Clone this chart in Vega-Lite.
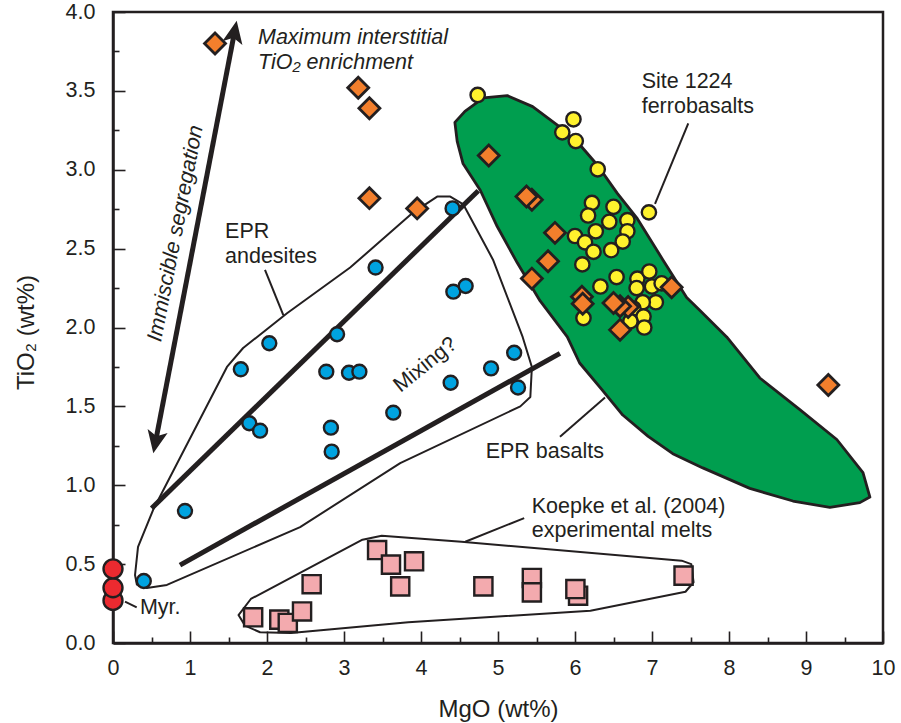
{
  "$schema": "https://vega.github.io/schema/vega-lite/v6.json",
  "width": 770,
  "height": 631,
  "autosize": {"type": "none"},
  "padding": {"left": 113, "top": 12, "right": 18, "bottom": 80},
  "background": "white",
  "config": {
    "font": "Liberation Sans",
    "view": {"stroke": "#231f20", "strokeWidth": 2.5}
  },
  "datasets": {
    "green": [
      {"o": 1, "x": 4.44, "y": 3.30}, {"o": 2, "x": 4.57, "y": 3.37}, {"o": 3, "x": 4.81, "y": 3.455},
      {"o": 4, "x": 5.12, "y": 3.47}, {"o": 5, "x": 5.45, "y": 3.40}, {"o": 6, "x": 5.78, "y": 3.28},
      {"o": 7, "x": 6.06, "y": 3.16}, {"o": 8, "x": 6.29, "y": 3.03}, {"o": 9, "x": 6.55, "y": 2.85},
      {"o": 10, "x": 6.81, "y": 2.69}, {"o": 11, "x": 7.14, "y": 2.43}, {"o": 12, "x": 7.45, "y": 2.19},
      {"o": 13, "x": 7.62, "y": 2.11}, {"o": 14, "x": 7.97, "y": 1.94}, {"o": 15, "x": 8.40, "y": 1.68},
      {"o": 16, "x": 8.92, "y": 1.48}, {"o": 17, "x": 9.40, "y": 1.29}, {"o": 18, "x": 9.74, "y": 1.08},
      {"o": 19, "x": 9.83, "y": 0.925}, {"o": 20, "x": 9.70, "y": 0.89}, {"o": 21, "x": 9.31, "y": 0.86},
      {"o": 22, "x": 8.83, "y": 0.90}, {"o": 23, "x": 8.27, "y": 0.98}, {"o": 24, "x": 7.66, "y": 1.11},
      {"o": 25, "x": 7.27, "y": 1.20}, {"o": 26, "x": 6.95, "y": 1.31}, {"o": 27, "x": 6.62, "y": 1.445},
      {"o": 28, "x": 6.36, "y": 1.60}, {"o": 29, "x": 6.06, "y": 1.775}, {"o": 30, "x": 5.90, "y": 1.94},
      {"o": 31, "x": 5.545, "y": 2.17}, {"o": 32, "x": 5.25, "y": 2.41}, {"o": 33, "x": 4.99, "y": 2.64},
      {"o": 34, "x": 4.77, "y": 2.87}, {"o": 35, "x": 4.545, "y": 3.04}, {"o": 36, "x": 4.47, "y": 3.18}
    ],
    "andesite": [
      {"o": 1, "x": 0.286, "y": 0.431}, {"o": 2, "x": 0.325, "y": 0.609}, {"o": 3, "x": 0.52, "y": 0.843},
      {"o": 4, "x": 1.48, "y": 1.75}, {"o": 5, "x": 1.69, "y": 1.87}, {"o": 6, "x": 2.26, "y": 2.09},
      {"o": 7, "x": 3.08, "y": 2.38}, {"o": 8, "x": 3.90, "y": 2.73}, {"o": 9, "x": 4.21, "y": 2.83},
      {"o": 10, "x": 4.38, "y": 2.83}, {"o": 11, "x": 4.55, "y": 2.78}, {"o": 12, "x": 4.935, "y": 2.43},
      {"o": 13, "x": 5.32, "y": 1.94}, {"o": 14, "x": 5.44, "y": 1.75}, {"o": 15, "x": 5.42, "y": 1.56},
      {"o": 16, "x": 5.29, "y": 1.50}, {"o": 17, "x": 3.73, "y": 1.14}, {"o": 18, "x": 2.43, "y": 0.735},
      {"o": 19, "x": 0.70, "y": 0.368}, {"o": 20, "x": 0.44, "y": 0.349}, {"o": 21, "x": 0.31, "y": 0.37}
    ],
    "koepke": [
      {"o": 1, "x": 3.49, "y": 0.68}, {"o": 2, "x": 4.525, "y": 0.642}, {"o": 3, "x": 7.385, "y": 0.522},
      {"o": 4, "x": 7.51, "y": 0.50}, {"o": 5, "x": 7.54, "y": 0.385}, {"o": 6, "x": 7.435, "y": 0.325},
      {"o": 7, "x": 6.20, "y": 0.205}, {"o": 8, "x": 3.835, "y": 0.131}, {"o": 9, "x": 2.31, "y": 0.063},
      {"o": 10, "x": 1.91, "y": 0.068}, {"o": 11, "x": 1.715, "y": 0.11}, {"o": 12, "x": 1.63, "y": 0.177},
      {"o": 13, "x": 1.79, "y": 0.279}, {"o": 14, "x": 3.24, "y": 0.655}
    ],
    "callouts": [
      {"g": "andesite", "o": 1, "x": 1.974, "y": 2.365}, {"g": "andesite", "o": 2, "x": 2.212, "y": 2.079},
      {"g": "basalt", "o": 1, "x": 5.805, "y": 1.308}, {"g": "basalt", "o": 2, "x": 6.39, "y": 1.557},
      {"g": "site", "o": 1, "x": 7.471, "y": 3.294}, {"g": "site", "o": 2, "x": 7.039, "y": 2.783},
      {"g": "koepke", "o": 1, "x": 4.575, "y": 0.642}, {"g": "koepke", "o": 2, "x": 5.34, "y": 0.792},
      {"g": "myr", "o": 1, "x": 0.156, "y": 0.262}, {"g": "myr", "o": 2, "x": 0.308, "y": 0.226}
    ],
    "thick": [
      {"g": "upper", "o": 1, "x": 0.502, "y": 0.854}, {"g": "upper", "o": 2, "x": 4.744, "y": 2.867},
      {"g": "lower", "o": 1, "x": 0.870, "y": 0.494}, {"g": "lower", "o": 2, "x": 5.805, "y": 1.836},
      {"g": "arrow", "o": 1, "x": 0.553, "y": 1.277}, {"g": "arrow", "o": 2, "x": 1.577, "y": 3.870}
    ],
    "pts": [
      {"g": "blue", "x": 2.03, "y": 1.90}, {"g": "blue", "x": 1.66, "y": 1.735}, {"g": "blue", "x": 3.41, "y": 2.38},
      {"g": "blue", "x": 4.41, "y": 2.755}, {"g": "blue", "x": 4.42, "y": 2.227}, {"g": "blue", "x": 4.58, "y": 2.263},
      {"g": "blue", "x": 2.91, "y": 1.957}, {"g": "blue", "x": 2.77, "y": 1.72}, {"g": "blue", "x": 3.065, "y": 1.713},
      {"g": "blue", "x": 3.20, "y": 1.72}, {"g": "blue", "x": 1.77, "y": 1.393}, {"g": "blue", "x": 1.91, "y": 1.346},
      {"g": "blue", "x": 2.83, "y": 1.365}, {"g": "blue", "x": 2.84, "y": 1.213}, {"g": "blue", "x": 3.64, "y": 1.46},
      {"g": "blue", "x": 4.385, "y": 1.65}, {"g": "blue", "x": 4.91, "y": 1.741}, {"g": "blue", "x": 5.21, "y": 1.84},
      {"g": "blue", "x": 5.26, "y": 1.62}, {"g": "blue", "x": 0.935, "y": 0.837}, {"g": "blue", "x": 0.40, "y": 0.393},
      {"g": "red", "x": 0, "y": 0.27}, {"g": "red", "x": 0, "y": 0.35}, {"g": "red", "x": 0, "y": 0.47},
      {"g": "pink", "x": 1.82, "y": 0.163}, {"g": "pink", "x": 2.16, "y": 0.148}, {"g": "pink", "x": 2.27, "y": 0.127},
      {"g": "pink", "x": 2.455, "y": 0.20}, {"g": "pink", "x": 2.58, "y": 0.373}, {"g": "pink", "x": 3.43, "y": 0.589},
      {"g": "pink", "x": 3.61, "y": 0.497}, {"g": "pink", "x": 3.91, "y": 0.518}, {"g": "pink", "x": 3.73, "y": 0.359},
      {"g": "pink", "x": 4.81, "y": 0.359}, {"g": "pink", "x": 5.44, "y": 0.412}, {"g": "pink", "x": 5.44, "y": 0.321},
      {"g": "pink", "x": 6.04, "y": 0.30}, {"g": "pink", "x": 6.005, "y": 0.342}, {"g": "pink", "x": 7.41, "y": 0.427},
      {"g": "yellow", "x": 4.736, "y": 3.474}, {"g": "yellow", "x": 5.98, "y": 3.32}, {"g": "yellow", "x": 5.835, "y": 3.237},
      {"g": "yellow", "x": 6.01, "y": 3.182}, {"g": "yellow", "x": 6.295, "y": 3.003}, {"g": "yellow", "x": 6.96, "y": 2.73},
      {"g": "yellow", "x": 6.22, "y": 2.79}, {"g": "yellow", "x": 6.50, "y": 2.765}, {"g": "yellow", "x": 6.17, "y": 2.71},
      {"g": "yellow", "x": 6.445, "y": 2.67}, {"g": "yellow", "x": 6.68, "y": 2.68}, {"g": "yellow", "x": 6.68, "y": 2.61},
      {"g": "yellow", "x": 6.27, "y": 2.61}, {"g": "yellow", "x": 6.00, "y": 2.58}, {"g": "yellow", "x": 6.13, "y": 2.54},
      {"g": "yellow", "x": 6.62, "y": 2.545}, {"g": "yellow", "x": 6.24, "y": 2.48}, {"g": "yellow", "x": 6.47, "y": 2.49},
      {"g": "yellow", "x": 6.095, "y": 2.40}, {"g": "yellow", "x": 6.54, "y": 2.32}, {"g": "yellow", "x": 6.33, "y": 2.26},
      {"g": "yellow", "x": 6.81, "y": 2.31}, {"g": "yellow", "x": 6.965, "y": 2.355}, {"g": "yellow", "x": 6.80, "y": 2.25},
      {"g": "yellow", "x": 7.00, "y": 2.26}, {"g": "yellow", "x": 7.125, "y": 2.28}, {"g": "yellow", "x": 7.05, "y": 2.16},
      {"g": "yellow", "x": 6.88, "y": 2.16}, {"g": "yellow", "x": 6.76, "y": 2.12}, {"g": "yellow", "x": 6.89, "y": 2.07},
      {"g": "yellow", "x": 6.90, "y": 2.00}, {"g": "yellow", "x": 6.72, "y": 2.04}, {"g": "yellow", "x": 6.11, "y": 2.06},
      {"g": "orange", "x": 1.325, "y": 3.80}, {"g": "orange", "x": 3.185, "y": 3.52}, {"g": "orange", "x": 3.33, "y": 3.39},
      {"g": "orange", "x": 3.33, "y": 2.82}, {"g": "orange", "x": 3.95, "y": 2.755}, {"g": "orange", "x": 4.88, "y": 3.09},
      {"g": "orange", "x": 5.44, "y": 2.81}, {"g": "orange", "x": 5.37, "y": 2.83}, {"g": "orange", "x": 5.74, "y": 2.60},
      {"g": "orange", "x": 5.65, "y": 2.42}, {"g": "orange", "x": 5.44, "y": 2.31}, {"g": "orange", "x": 6.09, "y": 2.195},
      {"g": "orange", "x": 6.10, "y": 2.15}, {"g": "orange", "x": 6.69, "y": 2.13}, {"g": "orange", "x": 6.585, "y": 2.135},
      {"g": "orange", "x": 6.50, "y": 2.155}, {"g": "orange", "x": 6.585, "y": 1.985}, {"g": "orange", "x": 7.255, "y": 2.255},
      {"g": "orange", "x": 9.29, "y": 1.635}
    ],
    "labels": [
      {"t": "EPR", "x": 1.455, "y": 2.607},
      {"t": "andesites", "x": 1.455, "y": 2.448},
      {"t": "Site 1224", "x": 6.866, "y": 3.554},
      {"t": "ferrobasalts", "x": 6.866, "y": 3.396},
      {"t": "EPR basalts", "x": 4.84, "y": 1.213},
      {"t": "Koepke et al. (2004)", "x": 5.438, "y": 0.86},
      {"t": "experimental melts", "x": 5.438, "y": 0.708},
      {"t": "Myr.", "x": 0.35, "y": 0.222}
    ],
    "italic": [
      {"t": "Maximum interstitial", "x": 1.883, "y": 3.833},
      {"t": "TiO₂ enrichment", "x": 1.883, "y": 3.679}
    ]
  },
  "encoding": {
    "x": {
      "field": "x", "type": "quantitative",
      "scale": {"domain": [0, 10], "nice": false, "zero": false},
      "axis": {
        "title": "MgO (wt%)",
        "values": [0, 0.5, 1, 1.5, 2, 2.5, 3, 3.5, 4, 4.5, 5, 5.5, 6, 6.5, 7, 7.5, 8, 8.5, 9, 9.5, 10],
        "labelExpr": "datum.value % 1 === 0 ? format(datum.value, 'd') : ''",
        "grid": false,
        "tickSize": {"expr": "datum.value % 1 === 0 ? -12 : -6"},
        "labelPadding": 26,
        "labelFontSize": 21.5,
        "labelColor": "#231f20",
        "labelFlush": false,
        "labelOverlap": false,
        "labelBound": false,
        "domainColor": "#231f20",
        "domainWidth": 2.5,
        "tickColor": "#231f20",
        "tickWidth": 1.6,
        "titleFontSize": 24,
        "titleFontWeight": "normal",
        "titleColor": "#231f20",
        "titleBaseline": "alphabetic",
        "titleY": 73
      }
    },
    "y": {
      "field": "y", "type": "quantitative",
      "scale": {"domain": [0, 4], "nice": false, "zero": false},
      "axis": {
        "title": "TiO₂ (wt%)",
        "values": [0, 0.25, 0.5, 0.75, 1, 1.25, 1.5, 1.75, 2, 2.25, 2.5, 2.75, 3, 3.25, 3.5, 3.75, 4],
        "labelExpr": "(datum.value * 2) % 1 === 0 ? format(datum.value, '.1f') : ''",
        "grid": false,
        "tickSize": {"expr": "(datum.value * 2) % 1 === 0 ? -12 : -6"},
        "labelPadding": 30,
        "labelFontSize": 21.5,
        "labelColor": "#231f20",
        "labelFlush": false,
        "labelOverlap": false,
        "labelBound": false,
        "domainColor": "#231f20",
        "domainWidth": 2.5,
        "tickColor": "#231f20",
        "tickWidth": 1.6,
        "titleFontSize": 24,
        "titleFontWeight": "normal",
        "titleColor": "#231f20",
        "titleAngle": -90,
        "titleAlign": "center",
        "titleBaseline": "alphabetic",
        "titleX": -80,
        "titleY": 320
      }
    }
  },
  "layer": [
    {
      "data": {"name": "green"},
      "mark": {"type": "line", "interpolate": "linear-closed", "fill": "#009e4f", "stroke": "#231f20", "strokeWidth": 2.8, "strokeJoin": "round"},
      "encoding": {"order": {"field": "o", "type": "quantitative"}}
    },
    {
      "data": {"name": "andesite"},
      "mark": {"type": "line", "interpolate": "linear-closed", "stroke": "#231f20", "strokeWidth": 2, "strokeJoin": "round"},
      "encoding": {"order": {"field": "o", "type": "quantitative"}}
    },
    {
      "data": {"name": "koepke"},
      "mark": {"type": "line", "interpolate": "linear-closed", "stroke": "#231f20", "strokeWidth": 2, "strokeJoin": "round"},
      "encoding": {"order": {"field": "o", "type": "quantitative"}}
    },
    {
      "data": {"name": "callouts"},
      "mark": {"type": "line", "stroke": "#231f20", "strokeWidth": 2},
      "encoding": {"detail": {"field": "g"}, "order": {"field": "o", "type": "quantitative"}}
    },
    {
      "data": {"name": "thick"},
      "mark": {"type": "line", "stroke": "#231f20", "strokeWidth": 5, "strokeCap": "butt"},
      "encoding": {"detail": {"field": "g"}, "order": {"field": "o", "type": "quantitative"}}
    },
    {
      "data": {"values": [{"x": 1.577, "y": 3.870}]},
      "mark": {"type": "point", "shape": "M0,-1L0.85,0.9L0,0.45L-0.85,0.9Z", "filled": true, "fill": "#231f20", "strokeWidth": 0, "size": 576, "angle": 10.9, "opacity": 1}
    },
    {
      "data": {"values": [{"x": 0.553, "y": 1.277}]},
      "mark": {"type": "point", "shape": "M0,-1L0.85,0.9L0,0.45L-0.85,0.9Z", "filled": true, "fill": "#231f20", "strokeWidth": 0, "size": 576, "angle": 190.9, "opacity": 1}
    },
    {
      "data": {"name": "pts"},
      "transform": [{"filter": "datum.g === 'blue'"}],
      "mark": {"type": "point", "shape": "circle", "filled": true, "fill": "#00a3e0", "stroke": "#231f20", "strokeWidth": 2.4, "size": 195, "opacity": 1}
    },
    {
      "data": {"name": "pts"},
      "transform": [{"filter": "datum.g === 'red'"}],
      "mark": {"type": "point", "shape": "circle", "filled": true, "fill": "#ec2a30", "stroke": "#231f20", "strokeWidth": 2.4, "size": 360, "opacity": 1}
    },
    {
      "data": {"name": "pts"},
      "transform": [{"filter": "datum.g === 'pink'"}],
      "mark": {"type": "point", "shape": "square", "filled": true, "fill": "#f3aaae", "stroke": "#231f20", "strokeWidth": 2.4, "size": 330, "opacity": 1}
    },
    {
      "data": {"name": "pts"},
      "transform": [{"filter": "datum.g === 'yellow'"}],
      "mark": {"type": "point", "shape": "circle", "filled": true, "fill": "#fff22d", "stroke": "#231f20", "strokeWidth": 2.4, "size": 205, "opacity": 1}
    },
    {
      "data": {"name": "pts"},
      "transform": [{"filter": "datum.g === 'orange'"}],
      "mark": {"type": "point", "shape": "diamond", "filled": true, "fill": "#f37f2c", "stroke": "#231f20", "strokeWidth": 2.8, "size": 440, "opacity": 1}
    },
    {
      "data": {"name": "labels"},
      "mark": {"type": "text", "align": "left", "baseline": "middle", "fontSize": 21.5, "color": "#231f20"},
      "encoding": {"text": {"field": "t"}}
    },
    {
      "data": {"name": "italic"},
      "mark": {"type": "text", "align": "left", "baseline": "middle", "fontSize": 21.5, "fontStyle": "italic", "color": "#231f20"},
      "encoding": {"text": {"field": "t"}}
    },
    {
      "data": {"values": [{"t": "Immiscible segregation", "x": 0.818, "y": 2.596}]},
      "mark": {"type": "text", "align": "center", "baseline": "middle", "fontSize": 21.5, "fontStyle": "italic", "angle": -79, "color": "#231f20"},
      "encoding": {"text": {"field": "t"}}
    },
    {
      "data": {"values": [{"t": "Mixing?", "x": 4.06, "y": 1.762}]},
      "mark": {"type": "text", "align": "center", "baseline": "middle", "fontSize": 21.5, "angle": -39, "color": "#231f20"},
      "encoding": {"text": {"field": "t"}}
    }
  ]
}
